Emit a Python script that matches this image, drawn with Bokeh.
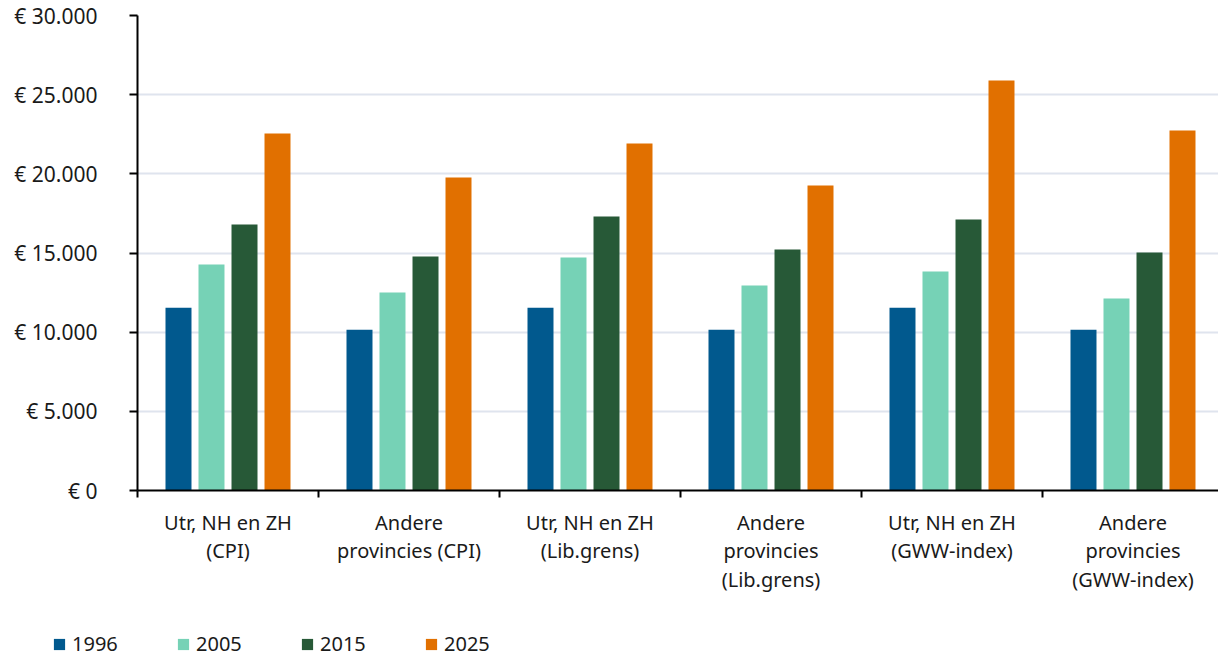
from bokeh.plotting import figure
from bokeh.layouts import column
from bokeh.models import Range1d, FixedTicker, Legend, LegendItem, ColumnDataSource
from bokeh.transform import dodge
from bokeh.embed import file_html
from bokeh.resources import INLINE

# ---- data ----
categories = [
    "Utr, NH en ZH\n(CPI)",
    "Andere\nprovincies (CPI)",
    "Utr, NH en ZH\n(Lib.grens)",
    "Andere\nprovincies\n(Lib.grens)",
    "Utr, NH en ZH\n(GWW-index)",
    "Andere\nprovincies\n(GWW-index)",
]
years = ["1996", "2005", "2015", "2025"]
v1996 = [11550, 10150, 11550, 10150, 11550, 10150]
v2005 = [14280, 12500, 14720, 12950, 13830, 12130]
v2015 = [16800, 14780, 17300, 15220, 17120, 15030]
v2025 = [22550, 19770, 21920, 19270, 25900, 22740]
y_ticks = [0, 5000, 10000, 15000, 20000, 25000, 30000]
y_tick_labels = ["€ 0", "€ 5.000", "€ 10.000", "€ 15.000", "€ 20.000", "€ 25.000", "€ 30.000"]

series = [v1996, v2005, v2015, v2025]
colors = ["#01598e", "#76d2b6", "#275937", "#e17000"]
offsets = [-0.2735, -0.0912, 0.0912, 0.2735]
FONT = "Noto Sans"

centers = [i + 0.5 for i in range(len(categories))]
bounds = [float(i) for i in range(len(categories) + 1)]

data = {"x": centers}
for y, s in zip(years, series):
    data["y" + y] = s
src = ColumnDataSource(data)

p = figure(width=1218, height=610, output_backend="svg", toolbar_location=None,
           x_range=Range1d(0, 5.9724), y_range=Range1d(0, 30000),
           min_border_left=137, min_border_right=0, min_border_top=15, min_border_bottom=120)
p.outline_line_color = None
p.background_fill_color = "white"
p.border_fill_color = "white"
p.frame_align = False

for y, c, off in zip(years, colors, offsets):
    p.vbar(x=dodge("x", off), top="y" + y, width=0.1436, source=src,
           fill_color=c, line_color=None)

# grid
p.xgrid.grid_line_color = None
p.ygrid.grid_line_color = "#dfe4ee"
p.ygrid.grid_line_width = 2
p.ygrid.ticker = FixedTicker(ticks=y_ticks)

# y axis
ya = p.yaxis[0]
ya.ticker = FixedTicker(ticks=y_ticks)
ya.major_label_overrides = dict(zip(y_ticks, y_tick_labels))
ya.axis_line_color = "black"
ya.axis_line_width = 2
ya.major_tick_out = 8
ya.major_tick_in = 0
ya.major_tick_line_width = 2
ya.major_tick_line_color = "black"
ya.minor_tick_line_color = None
ya.major_label_standoff = 32
ya.major_label_text_font = FONT
ya.major_label_text_font_size = "21px"
ya.major_label_text_color = "#1a1a1a"

# x axis: labels at centers, ticks at group boundaries
xa = p.xaxis[0]
xa.ticker = FixedTicker(ticks=centers, minor_ticks=bounds)
xa.major_label_overrides = dict(zip(centers, categories))
xa.axis_line_color = "black"
xa.axis_line_width = 2
xa.major_tick_out = 0
xa.major_tick_in = 0
xa.major_tick_line_color = None
xa.minor_tick_out = 7
xa.minor_tick_in = 0
xa.minor_tick_line_width = 2
xa.minor_tick_line_color = "black"
xa.major_label_standoff = 11
xa.major_label_text_font = FONT
xa.major_label_text_font_size = "20px"
xa.major_label_text_line_height = 1.07
xa.major_label_text_color = "#1a1a1a"

# ---- legend strip below the chart ----
pl = figure(width=1218, height=47, output_backend="svg", toolbar_location=None,
            x_range=Range1d(-20, -19), y_range=Range1d(0, 1),
            x_axis_type=None, y_axis_type=None,
            min_border_left=0, min_border_right=0, min_border_top=0, min_border_bottom=0)
pl.outline_line_color = None
pl.xgrid.visible = False
pl.ygrid.visible = False
pl.frame_align = False
leg_renderers = [pl.vbar(x=dodge("x", off), top="y" + y, width=0.1436, source=src,
                         fill_color=c, line_color=None)
                 for y, c, off in zip(years, colors, offsets)]

legend = Legend(items=[LegendItem(label=y, renderers=[r]) for y, r in zip(years, leg_renderers)],
                orientation="horizontal", location=(52, 0),
                glyph_width=14, glyph_height=14, label_width=100, label_standoff=6,
                spacing=4, padding=0, margin=0, border_line_color=None,
                background_fill_alpha=0, label_text_font=FONT,
                label_text_font_size="20px", label_text_color="#1a1a1a")
pl.add_layout(legend)

layout = column(p, pl, spacing=0)
open("out.html", "w").write(file_html(layout, INLINE))
